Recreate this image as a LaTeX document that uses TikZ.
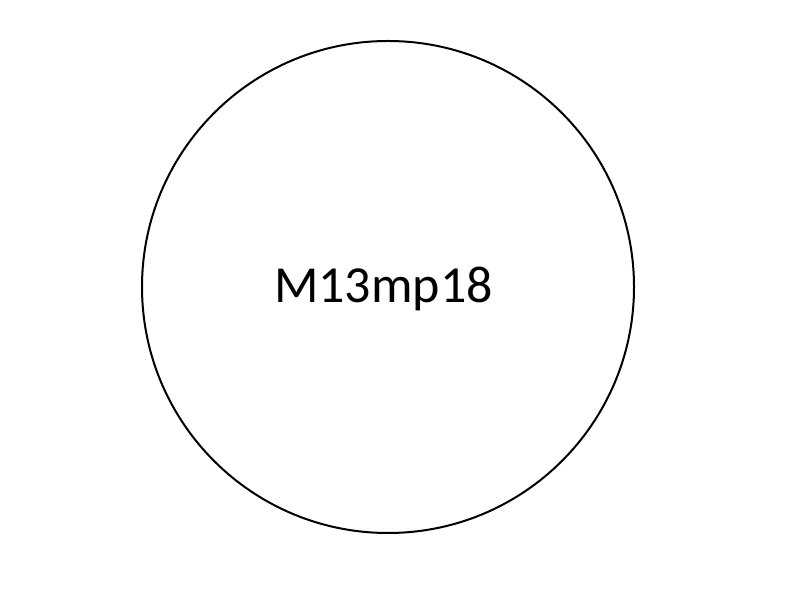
\documentclass[tikz,border=0pt]{standalone}
\usepackage{fontspec}
\setmainfont{Carlito}
\begin{document}
\begin{tikzpicture}[x=1pt,y=1pt,
  ring/.style={circle,draw=black,line width=2pt,minimum size=492pt,inner sep=0pt},
  lbl/.style={font=\fontsize{52}{60}\selectfont,inner sep=0pt,anchor=base}]
\useasboundingbox (0,0) rectangle (800,600);
\node[ring] (c) at (388,313) {};
\node[lbl] (t) at (383.5,297) {M13mp18};
\end{tikzpicture}
\end{document}
